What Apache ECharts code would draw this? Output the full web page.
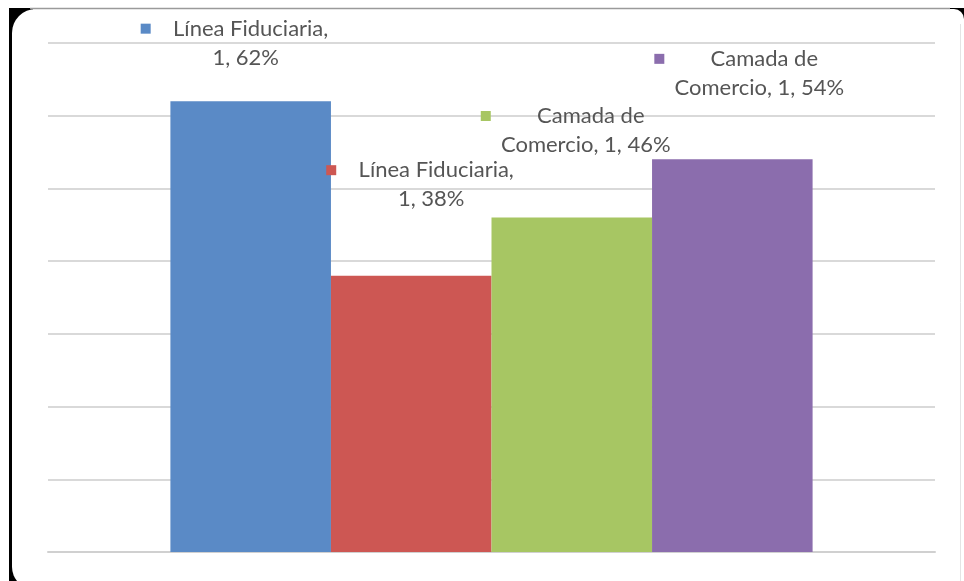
<!DOCTYPE html>
<html>
<head>
<meta charset="utf-8">
<script src="https://cdn.jsdelivr.net/npm/echarts@6/dist/echarts.min.js"></script>
<style>
html,body{margin:0;padding:0;background:#fff;}
#c{width:964px;height:581px;}
</style>
</head>
<body>
<div id="c"></div>
<script>
const categories = ['1'];
const seriesNames = ['Línea Fiduciaria', 'Línea Fiduciaria', 'Camada de Comercio', 'Camada de Comercio'];
const seriesValues = [[0.62], [0.38], [0.46], [0.54]];
const labelFirstLines = ['Línea Fiduciaria,', 'Línea Fiduciaria,', 'Camada de', 'Camada de'];
const labelSecondLines = ['1, 62%', '1, 38%', 'Comercio, 1, 46%', 'Comercio, 1, 54%'];
const yTicks = [0, 0.1, 0.2, 0.3, 0.4, 0.5, 0.6, 0.7];

const colors = ['#5a8ac6', '#cd5753', '#a7c663', '#8b6dad'];
const labelOffsets = [[-5, -29], [20, -62], [14, -58], [27, -57]];

const chart = echarts.init(document.getElementById('c'));
const series = seriesValues.map((vals, i) => ({
  name: seriesNames[i],
  type: 'bar',
  data: vals,
  barGap: '0%',
  barCategoryGap: '27.6%',
  itemStyle: { color: colors[i] },
  label: {
    show: true,
    position: 'top',
    distance: 0,
    offset: labelOffsets[i],
    width: 210,
    align: 'center',
    formatter: () => '{sq|}{t|' + labelFirstLines[i] + '}\n{t|' + labelSecondLines[i] + '}',
    rich: {
      sq: { width: 10, height: 10, backgroundColor: colors[i], align: 'left' },
      t: { fontFamily: 'Lato', fontSize: 22, color: '#555555', lineHeight: 29, align: 'center' }
    }
  }
}));

chart.setOption({
  animation: false,
  color: colors,
  grid: { left: 48, right: 29, top: 43, bottom: 29 },
  xAxis: {
    type: 'category',
    data: categories,
    axisLine: { show: true, lineStyle: { color: '#d0d0d0', width: 2 } },
    axisTick: { show: false },
    axisLabel: { show: false }
  },
  yAxis: {
    type: 'value',
    min: yTicks[0],
    max: yTicks[yTicks.length - 1],
    interval: 0.1,
    axisLine: { show: false },
    axisTick: { show: false },
    axisLabel: { show: false },
    splitLine: { lineStyle: { color: '#d9d9d9', width: 2 } }
  },
  graphic: [
    { type: 'rect', z: -10, silent: true, shape: { x: 9, y: 8, width: 24, height: 573 }, style: { fill: '#000' } },
    { type: 'rect', z: -10, silent: true, shape: { x: 948, y: 8, width: 16, height: 14 }, style: { fill: '#000' } },
    { type: 'rect', z: -9, silent: true, shape: { x: 12, y: 9, width: 952, height: 580, r: [24, 10, 0, 22] }, style: { fill: '#fff' } },
    { type: 'line', z: -8, silent: true, shape: { x1: 30, y1: 8.5, x2: 950, y2: 8.5 }, style: { stroke: '#9a9a9a', lineWidth: 1.5 } },
    { type: 'line', z: -8, silent: true, shape: { x1: 960.5, y1: 24, x2: 960.5, y2: 581 }, style: { stroke: '#e4e4e4', lineWidth: 1 } }
  ],
  series: series
});
</script>
</body>
</html>
